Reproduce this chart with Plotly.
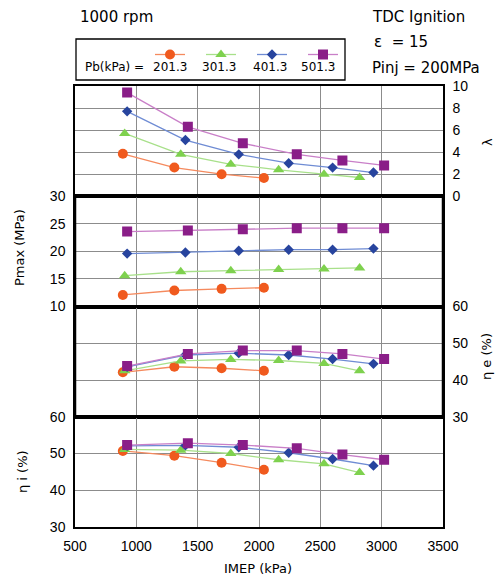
import plotly.graph_objects as go
from plotly.subplots import make_subplots

series_names = ["201.3", "301.3", "401.3", "501.3"]

imep_201 = [890, 1310, 1695, 2040]
imep_301 = [905, 1362, 1770, 2160, 2530, 2820]
imep_401 = [925, 1400, 1835, 2242, 2600, 2933]
imep_501 = [925, 1420, 1868, 2308, 2680, 3020]

lam_201 = [3.85, 2.6, 2.0, 1.65]
lam_301 = [5.7, 3.8, 2.9, 2.4, 2.0, 1.7]
lam_401 = [7.7, 5.1, 3.8, 3.0, 2.6, 2.15]
lam_501 = [9.4, 6.3, 4.8, 3.8, 3.25, 2.8]

pmax_201 = [12.1, 12.9, 13.2, 13.4]
pmax_301 = [15.6, 16.3, 16.5, 16.7, 16.8, 17.0]
pmax_401 = [19.6, 19.8, 20.1, 20.3, 20.3, 20.5]
pmax_501 = [23.6, 23.8, 24.0, 24.2, 24.2, 24.2]

etae_201 = [42.1, 43.6, 43.2, 42.5]
etae_301 = [42.5, 45.2, 45.6, 45.3, 44.5, 42.5]
etae_401 = [43.6, 46.8, 47.3, 46.8, 45.7, 44.4]
etae_501 = [43.8, 47.1, 48.0, 48.0, 47.1, 45.7]

etai_201 = [50.7, 49.4, 47.5, 45.6]
etai_301 = [51.1, 50.9, 50.0, 48.3, 47.2, 44.8]
etai_401 = [52.1, 52.2, 51.7, 50.2, 48.5, 46.7]
etai_501 = [52.3, 52.8, 52.3, 51.4, 49.7, 48.3]

imeps = [imep_201, imep_301, imep_401, imep_501]
panels = [
    [lam_201, lam_301, lam_401, lam_501],
    [pmax_201, pmax_301, pmax_401, pmax_501],
    [etae_201, etae_301, etae_401, etae_501],
    [etai_201, etai_301, etai_401, etai_501],
]

marker_colors = ["#F05A1E", "#7ED14E", "#27449E", "#8A1E88"]
line_colors = ["#F58A5E", "#A8E08A", "#6F8CD4", "#C97FC8"]
symbols = ["circle", "triangle-up", "diamond", "square"]
sizes = [10, 10, 8, 10]

fig = make_subplots(rows=4, cols=1, shared_xaxes=True, vertical_spacing=0)

for r, data in enumerate(panels, start=1):
    for i in range(4):
        fig.add_trace(go.Scatter(
            x=imeps[i], y=data[i], mode="lines+markers",
            name=" ", legendgroup=series_names[i],
            showlegend=(r == 1),
            line=dict(color=line_colors[i], width=1.3),
            marker=dict(color=marker_colors[i], symbol=symbols[i], size=sizes[i]),
        ), row=r, col=1)

grid = "#8c8c8c"
for r in range(1, 5):
    fig.update_xaxes(range=[500, 3500], dtick=500, showgrid=True, gridcolor=grid,
                     gridwidth=1.3, showline=True, mirror=True, linecolor="black",
                     linewidth=1.5, zeroline=False, ticks="", row=r, col=1)

fig.update_xaxes(showticklabels=True, tickfont=dict(size=14), ticklabelstandoff=5,
                 row=4, col=1)

yspecs = [
    dict(range=[0, 10], dtick=2, side="right"),
    dict(range=[10, 30], dtick=5, side="left"),
    dict(range=[30, 60], dtick=10, side="right"),
    dict(range=[30, 60], dtick=10, side="left"),
]
for r, s in enumerate(yspecs, start=1):
    fig.update_yaxes(range=s["range"], dtick=s["dtick"], side=s["side"],
                     showgrid=True, gridcolor=grid, gridwidth=1.3,
                     showline=True, mirror=True, linecolor="black", linewidth=1.5,
                     zeroline=False, ticks="", tickfont=dict(size=14),
                     ticklabelstandoff=5, row=r, col=1)

# thick frames around middle panels
for ax in ["2", "3"]:
    fig.add_shape(type="rect", xref=f"x{ax} domain", yref=f"y{ax} domain",
                  x0=0, x1=1, y0=0, y1=1, line=dict(color="black", width=2.5),
                  layer="above")

W, H = 495, 579
L, R, T, B = 75, 52, 86, 52
pw, ph = W - L - R, H - T - B

def px(x):
    return (x - L) / pw

def py(y):
    return (H - B - y) / ph

# legend frame
fig.add_shape(type="rect", xref="paper", yref="paper",
              x0=px(76), x1=px(345), y0=py(80), y1=py(39),
              line=dict(color="black", width=1.3), layer="above")

big = "DejaVu Sans, sans-serif"
ann = [
    dict(text="1000 rpm", x=px(78), y=py(17), xanchor="left", size=15, fam=big),
    dict(text="TDC Ignition", x=px(370), y=py(17), xanchor="left", size=15, fam=big),
    dict(text="ε  = 15", x=px(372), y=py(42), xanchor="left", size=15, fam=big),
    dict(text="Pinj = 200MPa", x=px(370), y=py(68), xanchor="left", size=15, fam=big),
    dict(text="IMEP (kPa)", x=px(258), y=py(568), xanchor="center", size=13, fam=big),
    dict(text="Pb(kPa) = ", x=px(83), y=py(67), xanchor="left", size=12, fam=big),
]
label_x = [170, 219, 270, 318]
for name, lx in zip(series_names, label_x):
    ann.append(dict(text=name, x=px(lx), y=py(67), xanchor="center", size=12, fam=big))

for a in ann:
    fig.add_annotation(text=a["text"], x=a["x"], y=a["y"], xref="paper", yref="paper",
                       xanchor=a["xanchor"], yanchor="middle", showarrow=False,
                       font=dict(size=a["size"], color="black", family=a["fam"]))

rot = [
    dict(text="Pmax (MPa)", x=px(20), y=py(248)),
    dict(text="η i (%)", x=px(22), y=py(472)),
    dict(text="η e (%)", x=px(486), y=py(357)),
    dict(text="λ", x=px(487), y=py(142)),
]
for a in rot:
    fig.add_annotation(text=a["text"], x=a["x"], y=a["y"], xref="paper", yref="paper",
                       xanchor="center", yanchor="middle", showarrow=False,
                       textangle=-90, font=dict(size=13, color="black", family=big))

fig.update_layout(
    width=W, height=H,
    margin=dict(l=L, r=R, t=T, b=B),
    paper_bgcolor="white", plot_bgcolor="white",
    font=dict(family="Liberation Sans, Noto Sans CJK JP, sans-serif", color="black"),
    legend=dict(orientation="h", x=px(150), xanchor="left", y=py(40), yanchor="top",
                borderwidth=0, bgcolor="rgba(0,0,0,0)",
                itemwidth=30, entrywidth=6, entrywidthmode="pixels",
                font=dict(size=10), tracegroupgap=0),
)

fig.write_html("out.html")
